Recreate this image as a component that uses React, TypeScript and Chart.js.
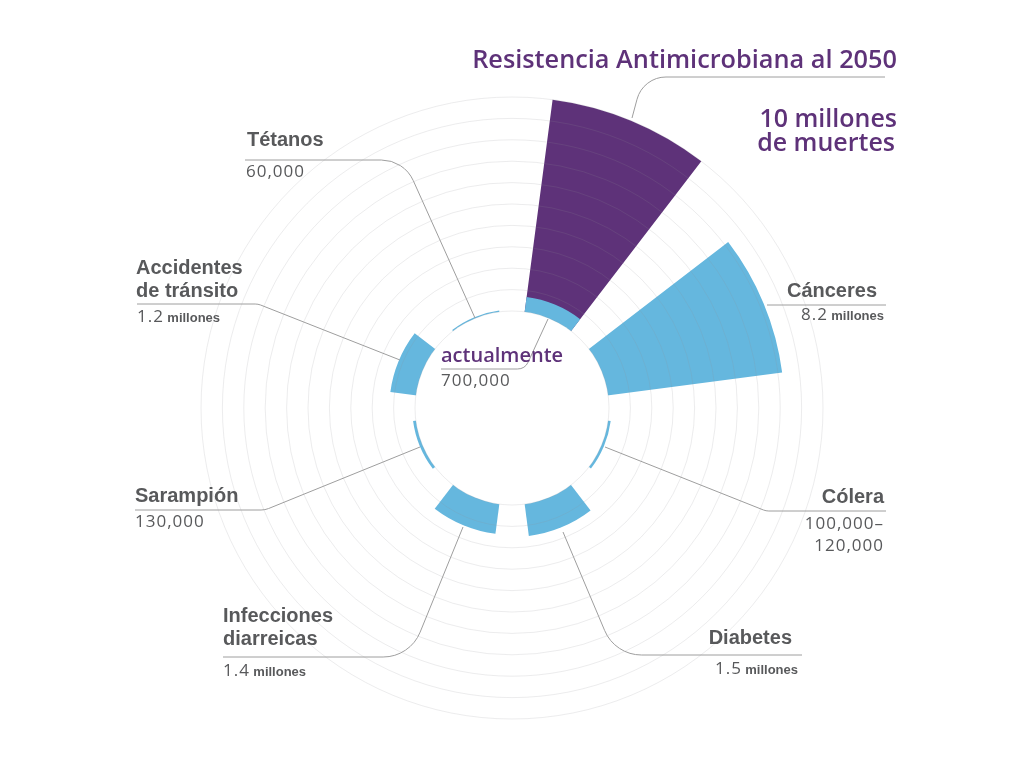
import React, { useEffect, useRef } from "react";
import { Chart, registerables } from "chart.js";

Chart.register(...registerables);

// ---- Data (deaths per year, millions) ----
const causes = [
  "Resistencia antimicrobiana",
  "Cánceres",
  "Cólera",
  "Diabetes",
  "Infecciones diarreicas",
  "Sarampión",
  "Accidentes de tránsito",
  "Tétanos",
];
const currentDeaths = [0.7, 8.2, 0.12, 1.5, 1.4, 0.13, 1.2, 0.06];
const deaths2050 = [10, null, null, null, null, null, null, null];
const gridTicks = [0, 1, 2, 3, 4, 5, 6, 7, 8, 9, 10];

// ---- Style / layout ----
const BLUE = "#65B7DE";
const PURPLE = "#5E3279";
const TEXT_PURPLE = "#5E3279";
const GREY_TEXT = "#58595B";
const GRID = "rgba(140,140,150,0.17)";
const NONE = "rgba(0,0,0,0)";
const SLICE_ANGLE = 30;
const GAP_ANGLE = 15;
const START_ANGLE = 7.5;
const HOLE_RATIO = 97 / 311;
const R_MAX = 10;
const R_MIN = -(R_MAX * HOLE_RATIO) / (1 - HOLE_RATIO);

const labels16 = causes.flatMap((c) => [c, ""]);
const angles16 = causes.flatMap(() => [SLICE_ANGLE, GAP_ANGLE]);
const currentData = currentDeaths.flatMap((v) => [v, 0]);
const currentColors = causes.flatMap(() => [BLUE, NONE]);
const futureData = deaths2050.flatMap((v) => [v ?? 0, 0]);
const futureColors = deaths2050.flatMap((v) => [v != null ? PURPLE : NONE, NONE]);

type Leader = { pts: [number, number][]; r: number };
const leaders: Leader[] = [
  { pts: [[885, 77], [643, 77], [632, 118]], r: 30 },
  { pts: [[767, 305], [886, 305]], r: 0 },
  { pts: [[886, 511], [766, 511], [605, 447]], r: 15 },
  { pts: [[802, 655], [615, 655], [563, 532]], r: 40 },
  { pts: [[223, 657], [410, 657], [463, 527]], r: 40 },
  { pts: [[135, 510], [265, 510], [420, 447]], r: 20 },
  { pts: [[137, 304], [258, 304], [400, 360]], r: 15 },
  { pts: [[245, 160], [404, 160], [475, 318]], r: 35 },
  { pts: [[441, 369], [525, 369], [548, 319]], r: 12 },
];

type Txt = { t: string; x: number; y: number; font: string; color: string; align: CanvasTextAlign; ls?: number };
const PF = (s: number) => `600 ${s}px "Open Sans"`;
const LF = `bold 20px "Liberation Sans"`;
const NF = `17px "Open Sans"`;
const MF = `bold 13px "Liberation Sans"`;

const texts: Txt[] = [
  { t: "Resistencia Antimicrobiana al 2050", x: 897, y: 68, font: PF(25.3), color: TEXT_PURPLE, align: "right" },
  { t: "10 millones", x: 897, y: 127, font: PF(25), color: TEXT_PURPLE, align: "right" },
  { t: "de muertes", x: 895, y: 151, font: PF(25), color: TEXT_PURPLE, align: "right" },
  { t: "Cánceres", x: 877, y: 297, font: LF, color: GREY_TEXT, align: "right" },
  { t: "Cólera", x: 884, y: 503, font: LF, color: GREY_TEXT, align: "right" },
  { t: "100,000–", x: 884, y: 529, font: NF, color: GREY_TEXT, align: "right", ls: 1 },
  { t: "120,000", x: 884, y: 551, font: NF, color: GREY_TEXT, align: "right", ls: 1 },
  { t: "Diabetes", x: 792, y: 644, font: LF, color: GREY_TEXT, align: "right" },
  { t: "Infecciones", x: 223, y: 622, font: LF, color: GREY_TEXT, align: "left" },
  { t: "diarreicas", x: 223, y: 645, font: LF, color: GREY_TEXT, align: "left" },
  { t: "Sarampión", x: 135, y: 502, font: LF, color: GREY_TEXT, align: "left" },
  { t: "130,000", x: 135, y: 527, font: NF, color: GREY_TEXT, align: "left", ls: 1 },
  { t: "Accidentes", x: 136, y: 274, font: LF, color: GREY_TEXT, align: "left" },
  { t: "de tránsito", x: 136, y: 297, font: LF, color: GREY_TEXT, align: "left" },
  { t: "Tétanos", x: 247, y: 146, font: LF, color: GREY_TEXT, align: "left" },
  { t: "60,000", x: 246, y: 177, font: NF, color: GREY_TEXT, align: "left", ls: 1 },
  { t: "actualmente", x: 441, y: 362, font: PF(20), color: TEXT_PURPLE, align: "left" },
  { t: "700,000", x: 441, y: 386, font: NF, color: GREY_TEXT, align: "left", ls: 1 },
];

// number + "millones"
type Mill = { n: string; x: number; y: number; align: "left" | "right" };
const millLabels: Mill[] = [
  { n: "8.2", x: 884, y: 320, align: "right" },
  { n: "1.5", x: 798, y: 674, align: "right" },
  { n: "1.4", x: 223, y: 676, align: "left" },
  { n: "1.2", x: 137, y: 322, align: "left" },
];

const overlayPlugin = {
  id: "overlay",
  afterDatasetsDraw(chart: any) {
    const r = chart.scales.r;
    const ctx: CanvasRenderingContext2D = chart.ctx;
    const hole = r.getDistanceFromCenterForValue(0);
    ctx.save();
    ctx.beginPath();
    ctx.arc(r.xCenter, r.yCenter, hole, 0, Math.PI * 2);
    ctx.fillStyle = "#ffffff";
    ctx.fill();
    ctx.restore();
  },
  afterDraw(chart: any) {
    const ctx: any = chart.ctx;
    ctx.save();
    ctx.strokeStyle = "#9e9e9e";
    ctx.lineWidth = 1;
    for (const l of leaders) {
      ctx.beginPath();
      ctx.moveTo(l.pts[0][0], l.pts[0][1]);
      if (l.pts.length === 3 && l.r > 0) {
        ctx.arcTo(l.pts[1][0], l.pts[1][1], l.pts[2][0], l.pts[2][1], l.r);
        ctx.lineTo(l.pts[2][0], l.pts[2][1]);
      } else {
        for (let i = 1; i < l.pts.length; i++) ctx.lineTo(l.pts[i][0], l.pts[i][1]);
      }
      ctx.stroke();
    }
    ctx.textBaseline = "alphabetic";
    for (const t of texts) {
      ctx.font = t.font;
      ctx.fillStyle = t.color;
      ctx.textAlign = t.align;
      ctx.letterSpacing = (t.ls || 0) + "px";
      ctx.fillText(t.t, t.x, t.y);
    }
    ctx.letterSpacing = "0px";
    for (const m of millLabels) {
      ctx.fillStyle = GREY_TEXT;
      ctx.font = MF;
      const mw = ctx.measureText("millones").width;
      ctx.font = NF;
      const nw = ctx.measureText(m.n + " ").width + 2;
      const left = m.align === "left" ? m.x : m.x - mw - nw;
      ctx.textAlign = "left";
      ctx.font = NF;
      ctx.letterSpacing = "1px";
      ctx.fillText(m.n, left, m.y);
      ctx.letterSpacing = "0px";
      ctx.font = MF;
      ctx.fillText("millones", left + nw, m.y);
    }
    ctx.restore();
  },
};

export default function App() {
  const ref = useRef<HTMLCanvasElement | null>(null);
  useEffect(() => {
    if (!ref.current) return;
    const chart = new Chart(ref.current, {
      type: "polarArea",
      data: {
        labels: labels16,
        datasets: [
          {
            label: "Actualmente",
            data: currentData,
            backgroundColor: currentColors,
            borderWidth: 0,
            angle: angles16,
          } as any,
          {
            label: "2050",
            data: futureData,
            backgroundColor: futureColors,
            borderWidth: 0,
            angle: angles16,
          } as any,
        ],
      },
      options: {
        animation: false,
        responsive: false,
        events: [],
        layout: { padding: { top: 97, bottom: 49, left: 0, right: 0 } },
        plugins: { legend: { display: false }, tooltip: { enabled: false } },
        scales: {
          r: {
            min: R_MIN,
            max: R_MAX,
            startAngle: START_ANGLE,
            ticks: { display: false, stepSize: 1 },
            afterBuildTicks: (scale: any) => {
              scale.ticks = [{ value: R_MIN }, ...gridTicks.map((v) => ({ value: v }))];
            },
            grid: {
              circular: true,
              color: GRID,
              lineWidth: 1,
              z: 1,
            },
            angleLines: { display: false },
            pointLabels: { display: false },
          } as any,
        },
      },
      plugins: [overlayPlugin],
    });
    return () => chart.destroy();
  }, []);
  return (
    <div style={{ position: "fixed", left: 0, top: 0, width: 1024, height: 768, background: "#fff" }}>
      <canvas ref={ref} width={1024} height={768} style={{ display: "block" }} />
    </div>
  );
}
